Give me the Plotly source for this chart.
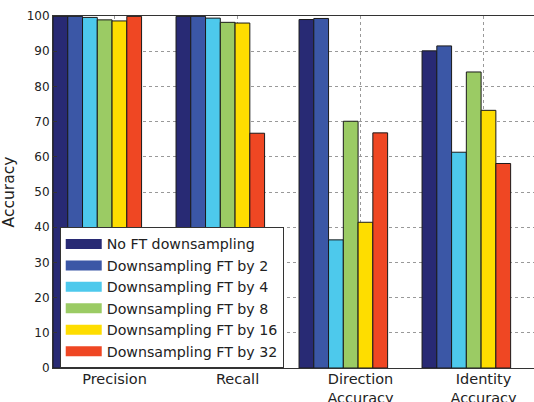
import plotly.graph_objects as go

categories = ["Precision", "Recall", "Direction<br>Accuracy", "Identity<br>Accuracy"]
series_names = ["No FT downsampling", "Downsampling FT by 2", "Downsampling FT by 4",
                "Downsampling FT by 8", "Downsampling FT by 16", "Downsampling FT by 32"]
no_ft = [99.9, 99.9, 99.0, 90.1]
ft_2 = [99.9, 99.9, 99.3, 91.5]
ft_4 = [99.6, 99.4, 36.4, 61.3]
ft_8 = [98.9, 98.2, 70.1, 84.1]
ft_16 = [98.6, 98.0, 41.4, 73.2]
ft_32 = [99.9, 66.7, 66.8, 58.1]
series_values = [no_ft, ft_2, ft_4, ft_8, ft_16, ft_32]
colors = ["#282a74", "#3b57a6", "#4dc9ec", "#9bcb64", "#fedd00", "#ef4723"]

bar_w = 0.12
fig = go.Figure()
for j, (name, vals, col) in enumerate(zip(series_names, series_values, colors)):
    fig.add_trace(go.Bar(
        x=[i + j * bar_w + bar_w / 2 for i in range(len(categories))],
        y=vals, width=bar_w, name=name, showlegend=False,
        marker=dict(color=col, line=dict(color="#1a1a1a", width=1)),
    ))
# legend entries with wide rectangular swatches
for name, col in zip(series_names, colors):
    fig.add_trace(go.Scatter(
        x=[None], y=[None], mode="lines", name=name,
        line=dict(color=col, width=10),
    ))

font_family = "DejaVu Sans"
fig.update_layout(
    width=534, height=402,
    margin=dict(l=53, r=0, t=16, b=34, autoexpand=False),
    barmode="overlay",
    hovermode=False,
    plot_bgcolor="white", paper_bgcolor="white",
    font=dict(family=font_family, color="#222"),
    legend=dict(
        x=0.014, y=0.40, xanchor="left", yanchor="top",
        bgcolor="white", bordercolor="#333", borderwidth=1,
        font=dict(size=14.2, family=font_family, color="#222"),
        tracegroupgap=0, itemwidth=36,
    ),
    showlegend=True,
)
fig.update_xaxes(
    range=[0, 3.91],
    tickvals=[i + 0.5 for i in range(len(categories))],
    ticktext=categories,
    tickfont=dict(size=14.5, family=font_family, color="#222"),
    showgrid=True, gridcolor="#999", griddash="dot", gridwidth=1,
    showline=True, linecolor="#333", linewidth=1, mirror=True,
    ticks="", layer="above traces", zeroline=False, automargin=False,
    ticklabelstandoff=-2,
)
fig.update_yaxes(
    range=[0, 100], dtick=10,
    tickfont=dict(size=12, family=font_family, color="#222"),
    title=dict(text="Accuracy", font=dict(size=15.5, family=font_family, color="#222"), standoff=10),
    showgrid=True, gridcolor="#999", griddash="dot", gridwidth=1,
    showline=True, linecolor="#333", linewidth=1,
    ticks="inside", ticklen=4, tickcolor="#333",
    layer="above traces", zeroline=False, automargin=False,
)
fig.write_html(
    "out.html",
    config={"displayModeBar": False, "staticPlot": True},
    post_script="document.body.style.margin='0';document.body.style.overflow='hidden';",
)
